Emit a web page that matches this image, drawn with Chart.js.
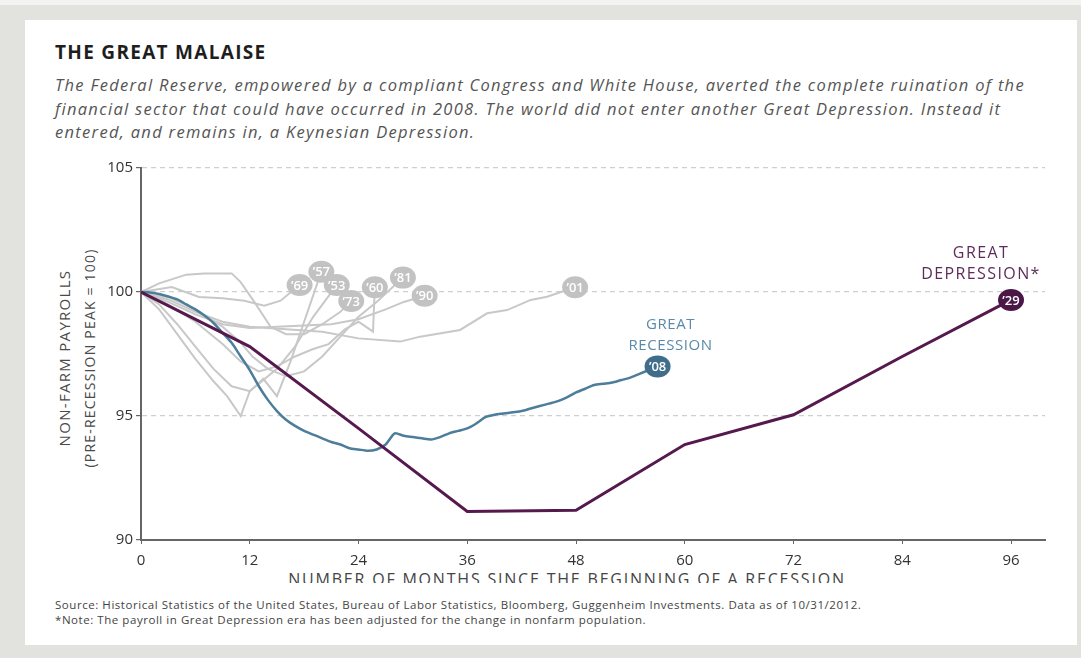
<!DOCTYPE html>
<html>
<head>
<meta charset="utf-8">
<script src="https://cdn.jsdelivr.net/npm/chart.js@4"></script>
<style>
    html, body { margin: 0; padding: 0; }
    body {
        width: 1081px; height: 658px; position: relative; overflow: hidden;
        background: #e2e2de; font-family: "Open Sans", sans-serif;
    }
    .strip { position: absolute; left: 0; top: 0; width: 1081px; height: 5px; background: #f3f3f1; }
    .panel { position: absolute; left: 25px; top: 20px; width: 1052px; height: 625px; background: #fff; }
    .title { position: absolute; left: 55px; top: 39px; font-size: 19px; font-weight: 700; color: #1e1e1e; letter-spacing: 1.3px; white-space: nowrap; }
    .sub { position: absolute; left: 55px; top: 73px; font-size: 16.5px; font-style: italic; color: #555; line-height: 23.5px; letter-spacing: 1.3px; white-space: nowrap; }
    .ytitle {
        position: absolute; left: 77px; top: 358px; transform: translate(-50%, -50%) rotate(-90deg);
        text-align: center; white-space: nowrap; color: #4a4a4a; line-height: 25px;
    }
    .ytitle .a { font-size: 15px; letter-spacing: 1.3px; }
    .ytitle .b { font-size: 14px; letter-spacing: 1.2px; }
    .xclip { position: absolute; left: 0; top: 569px; width: 1081px; height: 14px; overflow: hidden; }
    .xtitle { position: absolute; left: 567px; top: 0; transform: translateX(-50%); font-size: 16px; line-height: 20px; letter-spacing: 1.8px; color: #444; white-space: nowrap; }
    .source { position: absolute; left: 55px; top: 597px; font-size: 11.5px; line-height: 15px; letter-spacing: 0.55px; color: #444; white-space: nowrap; }
    canvas { position: absolute; left: 0; top: 0; }
</style>
</head>
<body>
<div class="strip"></div>
<div class="panel"></div>
<div class="title">THE GREAT MALAISE</div>
<div class="sub">The Federal Reserve, empowered by a compliant Congress and White House, averted the complete ruination of the<br>financial sector that could have occurred in 2008. The world did not enter another Great Depression. Instead it<br>entered, and remains in, a Keynesian Depression.</div>
<div class="ytitle"><div class="a">NON-FARM PAYROLLS</div><div class="b">(PRE-RECESSION PEAK = 100)</div></div>
<div class="xclip"><div class="xtitle">NUMBER OF MONTHS SINCE THE BEGINNING OF A RECESSION</div></div>
<div class="source">Source: Historical Statistics of the United States, Bureau of Labor Statistics, Bloomberg, Guggenheim Investments. Data as of 10/31/2012.<br>*Note: The payroll in Great Depression era has been adjusted for the change in nonfarm population.</div>
<canvas id="malaise-chart" width="1081" height="658"></canvas>
<script>
(function () {
    "use strict";

    // Tick labels
    const monthTicks = [0, 12, 24, 36, 48, 60, 72, 84, 96];
    const payrollTicks = [90, 95, 100, 105];

    // Past recessions (grey)
    const months53 = [0, 2, 4, 6, 8, 10, 12, 13, 15, 17, 19, 21.6];
    const values53 = [100, 99.5, 98.7, 97.8, 96.9, 96.2, 96.0, 96.3, 96.9, 97.8, 99.0, 100.28];
    const months57 = [0, 2, 4, 6, 8, 9.5, 11, 12, 13.5, 15, 16.5, 18, 19.9];
    const values57 = [100, 99.3, 98.3, 97.3, 96.4, 95.8, 95.0, 96.0, 96.5, 95.8, 97.2, 98.8, 100.82];
    const months60 = [0, 3, 6, 9, 11, 13, 15, 17, 19, 20.7, 22.5, 24, 25.6, 25.8];
    const values60 = [100, 99.5, 98.8, 97.9, 97.2, 96.8, 97.0, 97.4, 97.7, 97.9, 98.5, 98.8, 98.4, 100.19];
    const months69 = [0, 3.4, 6.4, 9, 11.4, 13.6, 15.4, 17.5];
    const values69 = [100, 100.2, 99.8, 99.75, 99.65, 99.45, 99.65, 100.28];
    const months73 = [0, 2, 5, 7, 10, 11, 12.5, 14.3, 16, 18, 20, 22, 23.2];
    const values73 = [100, 100.35, 100.7, 100.75, 100.75, 100.4, 99.6, 98.6, 98.3, 98.3, 98.7, 99.2, 99.64];
    const months81 = [0, 3, 6, 9, 10.9, 12.3, 14, 16, 18, 20, 22, 24, 26, 28.9];
    const values81 = [100, 99.8, 99.3, 98.6, 98.0, 97.4, 96.9, 96.6, 96.8, 97.4, 98.2, 99.0, 99.6, 100.58];
    const months90 = [0, 3, 6, 9, 12, 15, 18, 21, 24, 27, 29, 31.3];
    const values90 = [100, 99.6, 99.1, 98.7, 98.55, 98.6, 98.65, 98.7, 98.9, 99.3, 99.6, 99.85];
    const months01 = [0, 3, 6, 9, 12, 16, 20, 24, 28.6, 30.8, 35.2, 38.2, 40.4, 43, 44.8, 47.9];
    const values01 = [100, 99.7, 99.2, 98.8, 98.6, 98.5, 98.4, 98.13, 98.0, 98.2, 98.47, 99.14, 99.27, 99.68, 99.81, 100.19];

    // Great Recession (monthly, from 0)
    const values08 = [
        100, 99.98, 99.92, 99.82, 99.7, 99.5, 99.3, 99.05, 98.75, 98.35,
        97.95, 97.4, 96.85, 96.2, 95.65, 95.2, 94.85, 94.6, 94.4, 94.25,
        94.1, 93.95, 93.85, 93.7, 93.65, 93.6, 93.65, 93.85, 94.3, 94.2,
        94.15, 94.1, 94.05, 94.15, 94.3, 94.4, 94.5, 94.7, 94.95, 95.05,
        95.1, 95.15, 95.2, 95.3, 95.4, 95.5, 95.6, 95.75, 95.95, 96.1,
        96.25, 96.3, 96.35, 96.45, 96.55, 96.7, 96.85, 97.0,
    ];

    // Great Depression (annual)
    const months29 = [0, 12, 24, 36, 48, 60, 72, 84, 96];
    const values29 = [100, 97.8, 94.5, 91.15, 91.2, 93.85, 95.05, 97.4, 99.68];

    const pairs = (xs, ys) => ys.map((y, i) => ({ x: xs[i], y: y }));

    const GREY = "#c8c8c8";
    const BLUE = "#4c7d9a";
    const PURPLE = "#55194d";

    const greyLine = (tag, xs, ys) => ({
        tag: tag,
        tagColor: "#c2c2c2",
        data: pairs(xs, ys),
        borderColor: GREY,
        borderWidth: 2,
        pointRadius: 0,
        tension: 0,
        order: 3,
    });

    const datasets = [
        greyLine("\u201953", months53, values53),
        greyLine("\u201957", months57, values57),
        greyLine("\u201960", months60, values60),
        greyLine("\u201969", months69, values69),
        greyLine("\u201973", months73, values73),
        greyLine("\u201981", months81, values81),
        greyLine("\u201990", months90, values90),
        greyLine("\u201901", months01, values01),
        {
            tag: "\u201908",
            tagColor: "#3f6d8a",
            note: ["GREAT", "RECESSION"],
            noteColor: "#5a8aa7",
            noteFont: "15px 'Open Sans'",
            noteSpacing: "0.6px",
            noteDx: 13, noteDy: -42,
            data: values08.map((y, i) => ({ x: i, y: y })),
            borderColor: BLUE,
            borderWidth: 2.5,
            pointRadius: 0,
            tension: 0.25,
            order: 2,
        },
        {
            tag: "\u201929",
            tagColor: "#4a1746",
            note: ["GREAT", "DEPRESSION*"],
            noteColor: "#5e2c5a",
            noteFont: "16px 'Open Sans'",
            noteSpacing: "1.4px",
            noteDx: -30, noteDy: -46,
            data: pairs(months29, values29),
            borderColor: PURPLE,
            borderWidth: 3,
            pointRadius: 0,
            tension: 0,
            order: 1,
        },
    ];

    // Bubbles at line ends + curve notes
    const endTags = {
        id: "endTags",
        afterDatasetsDraw(chart) {
            const ctx = chart.ctx;
            ctx.save();
            chart.data.datasets.forEach((ds, i) => {
                if (!ds.tag) return;
                const meta = chart.getDatasetMeta(i);
                const pt = meta.data[meta.data.length - 1];
                ctx.beginPath();
                ctx.ellipse(pt.x, pt.y, 13, 11, 0, 0, Math.PI * 2);
                ctx.fillStyle = ds.tagColor;
                ctx.fill();
                ctx.fillStyle = "#fff";
                ctx.font = "600 13px 'Open Sans'";
                ctx.textAlign = "center";
                ctx.textBaseline = "middle";
                ctx.letterSpacing = "0px";
                ctx.fillText(ds.tag, pt.x, pt.y + 1);
                if (ds.note) {
                    ctx.fillStyle = ds.noteColor;
                    ctx.font = ds.noteFont;
                    ctx.letterSpacing = ds.noteSpacing;
                    ds.note.forEach((line, k) => {
                        ctx.fillText(line, pt.x + ds.noteDx, pt.y + ds.noteDy + k * 21);
                    });
                }
            });
            ctx.restore();
        },
    };

    const ctx = document.getElementById("malaise-chart").getContext("2d");
    new Chart(ctx, {
        type: "line",
        data: { datasets: datasets },
        options: {
            responsive: false,
            animation: false,
            layout: { padding: { left: 0, top: 168, right: 36, bottom: 0 } },
            plugins: {
                legend: { display: false },
                tooltip: { enabled: false },
            },
            scales: {
                x: {
                    type: "linear",
                    min: 0,
                    max: 99.75,
                    afterFit: (scale) => { scale.height = 118; },
                    afterBuildTicks: (scale) => {
                        scale.ticks = monthTicks.map((v) => ({ value: v }));
                    },
                    ticks: {
                        color: "#333",
                        font: { family: "Open Sans", size: 15 },
                        padding: 8,
                        maxRotation: 0,
                    },
                    grid: {
                        drawOnChartArea: false,
                        drawTicks: true,
                        tickLength: 4,
                        tickColor: "#666",
                    },
                    border: { display: true, color: "#666", width: 2 },
                },
                y: {
                    min: 90,
                    max: 105,
                    afterFit: (scale) => { scale.width = 141; },
                    afterBuildTicks: (scale) => {
                        scale.ticks = payrollTicks.map((v) => ({ value: v }));
                    },
                    ticks: {
                        color: "#333",
                        font: { family: "Open Sans", size: 15 },
                        padding: 3,
                    },
                    grid: {
                        color: (c) => (c.tick && c.tick.value === 90 ? "rgba(0,0,0,0)" : "#cfcfcf"),
                        lineWidth: 1.2,
                        drawTicks: true,
                        tickLength: 5,
                        tickColor: "#666",
                        tickBorderDash: [],
                    },
                    border: { display: true, color: "#666", width: 2, dash: [5, 4] },
                },
            },
        },
        plugins: [endTags],
    });
})();
</script>
</body>
</html>
